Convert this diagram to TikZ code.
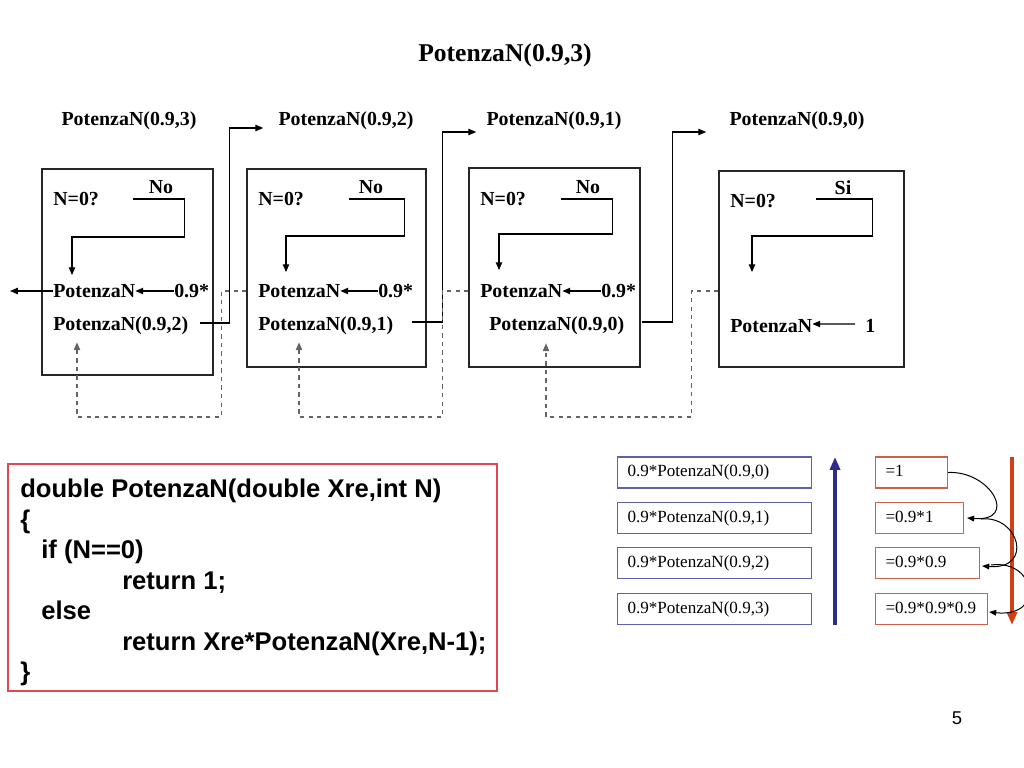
\documentclass[tikz,border=0pt]{standalone}
\usepackage{fontspec}
\setmainfont{Liberation Serif}
\setsansfont{Liberation Sans}
\usetikzlibrary{arrows.meta,fit}

\definecolor{stackblue}{RGB}{96,96,176}
\definecolor{arrowblue}{RGB}{44,44,140}
\definecolor{resultred}{RGB}{204,96,72}
\definecolor{arrowred}{RGB}{208,64,24}
\definecolor{codered}{RGB}{224,72,80}
\definecolor{retgray}{RGB}{100,100,100}

\begin{document}
\begin{tikzpicture}[
    x=0.703pt, y=-0.703pt,
    every node/.style={inner sep=0pt},
    title/.style={font=\bfseries\fontsize{18}{21}\selectfont},
    label/.style={font=\bfseries\fontsize{14}{16}\selectfont},
    frame/.style={draw=black!85, line width=0.8pt, inner sep=0pt},
    flow/.style={-{Triangle[length=5.5pt,width=4.5pt]}, line width=0.8pt},
    ret/.style={-{Triangle[length=5.5pt,width=4.5pt]}, dashed, draw=retgray, line width=0.8pt},
    stack/.style={draw=stackblue, line width=0.8pt, anchor=west, minimum height=21.8pt, inner xsep=7pt, text width=122.4pt, text height=8.4pt, text depth=2.6pt, align=left, font=\fontsize{12}{14}\selectfont},
    result/.style={stack, draw=resultred},
    code/.style={font=\sffamily\bfseries\fontsize{18}{21.4}\selectfont, align=left},
    codebox/.style={draw=codered, line width=0.8pt, inner sep=0pt},
    bigarrow/.style={line width=2.2pt, -{Triangle[length=9pt,width=7pt]}},
    curved/.style={-{Triangle[length=5pt,width=4pt]}, line width=0.7pt}
  ]
    \useasboundingbox (0,0) rectangle (1024,768);

    % Title and the chain of calls
    \node[title] (title) at (505,55) {PotenzaN(0.9,3)};
    \node[label] (call3) at (129,121) {PotenzaN(0.9,3)};
    \node[label] (call2) at (346,121) {PotenzaN(0.9,2)};
    \node[label] (call1) at (554,121) {PotenzaN(0.9,1)};
    \node[label] (call0) at (797,121) {PotenzaN(0.9,0)};

    % One frame per activation
    \node[frame, fit={(42,169) (213,375)}] (frame3) {};
    \node[frame, fit={(247,169) (426,367)}] (frame2) {};
    \node[frame, fit={(469,168) (640,367)}] (frame1) {};
    \node[frame, fit={(719,171) (904,367)}] (frame0) {};

    \node[label, anchor=west] (test3) at (53,199) {N=0?};
    \node[label] (no3) at (161,187) {No};
    \node[label, anchor=west] (rec3) at (53,291) {PotenzaN};
    \node[label, anchor=west] (k3) at (174,291) {0.9*};
    \node[label, anchor=west] (sub3) at (53,326) {PotenzaN(0.9,2)};

    \node[label, anchor=west] (test2) at (258,199) {N=0?};
    \node[label] (no2) at (371,187) {No};
    \node[label, anchor=west] (rec2) at (258,291) {PotenzaN};
    \node[label, anchor=west] (k2) at (378,291) {0.9*};
    \node[label, anchor=west] (sub2) at (258,326) {PotenzaN(0.9,1)};

    \node[label, anchor=west] (test1) at (480,199) {N=0?};
    \node[label] (no1) at (588,187) {No};
    \node[label, anchor=west] (rec1) at (480,291) {PotenzaN};
    \node[label, anchor=west] (k1) at (601,291) {0.9*};
    \node[label, anchor=west] (sub1) at (489,326) {PotenzaN(0.9,0)};

    \node[label, anchor=west] (test0) at (730,201) {N=0?};
    \node[label] (si0) at (843,188) {Si};
    \node[label, anchor=west] (rec0) at (730,326) {PotenzaN};
    \node[label, anchor=west] (one0) at (865,326) {1};

    \coordinate (result) at (10,291);

    % Decision branches
    \draw[flow] ([shift={(34,0)}]test3.east) -| ++(51,38) -| ([shift={(19,-9)}]rec3.north west);
    \draw[flow] ([shift={(45,0)}]test2.east) -| ++(55,37) -| ([shift={(28,-12)}]rec2.north west);
    \draw[flow] ([shift={(35,0)}]test1.east) -| ++(51,35) -| ([shift={(19,-14)}]rec1.north west);
    \draw[flow] ([shift={(40,-2)}]test0.east) -| ++(56,37) -| ([shift={(22,-47)}]rec0.north west);

    \draw[flow] (k3.west) -- (rec3.east);
    \draw[flow] (k2.west) -- (rec2.east);
    \draw[flow] (k1.west) -- (rec1.east);
    \draw[flow] (one0.west) ++(-10,-2) -- ([yshift=1.4pt]rec0.east);
    \draw[flow] (rec3.west) -- (result);

    % Recursive calls
    \draw[flow] ([shift={(11,-3)}]sub3.east) -- ++(30,0) |- ([shift={(-15,7)}]call2.west);
    \draw[flow] ([shift={(18,-4)}]sub2.east) -- ++(31,0) |- ([shift={(-10,11)}]call1.west);
    \draw[flow] ([shift={(17,-4)}]sub1.east) -- ++(31,0) |- ([shift={(-23,11)}]call0.west);

    % Returned values
    \draw[ret] (frame2.west |- rec2.west) -- ++(-25,0) -- ++(0,126) -| ([shift={(24,7)}]sub3.south west);
    \draw[ret] (frame1.west |- rec1.west) -- ++(-26,0) -- ++(0,126) -| ([shift={(41,7)}]sub2.south west);
    \draw[ret] (frame0.west |- rec1.west) -- ++(-27,0) -- ++(0,126) -| ([shift={(57,8)}]sub1.south west);

    % Source code
    \node[codebox, fit={(8,464) (497,691)}] (codeFrame) {};
    \node[code, anchor=north west] (code) at (20,479) {double PotenzaN(double Xre,int N)\\
      \{\\
      \hspace*{14.8pt}if (N==0)\\
      \hspace*{71.7pt}return 1;\\
      \hspace*{14.8pt}else\\
      \hspace*{71.7pt}return Xre*PotenzaN(Xre,N-1);\\
      \}};

    % Stack of pending calls and returned values
    \node[stack] (s0) at (617,472.5) {0.9*PotenzaN(0.9,0)};
    \node[stack] (s1) at (617,518) {0.9*PotenzaN(0.9,1)};
    \node[stack] (s2) at (617,563) {0.9*PotenzaN(0.9,2)};
    \node[stack] (s3) at (617,609) {0.9*PotenzaN(0.9,3)};

    \coordinate (pushBot) at (835,625);
    \coordinate (pushTop) at (835,457);
    \draw[bigarrow, arrowblue] (pushBot) -- (pushTop);

    \node[result, text width=36.6pt] (r0) at (875,472.5) {=1};
    \node[result, text width=47.9pt] (r1) at (875,518) {=0.9*1};
    \node[result, text width=59.1pt] (r2) at (875,563) {=0.9*0.9};
    \node[result, text width=64.7pt] (r3) at (875,609) {=0.9*0.9*0.9};

    \coordinate (popTop) at (1012,457);
    \coordinate (popBot) at (1012,625);
    \draw[bigarrow, arrowred] (popTop) -- (popBot);

    \draw[curved] (r0.east) .. controls +(43,-2) and +(52,4) .. ([xshift=2pt]r1.east);
    \draw[curved] ([shift={(17,1)}]r1.east) .. controls +(38,-4) and +(52,4) .. ([shift={(2,3)}]r2.east);
    \draw[curved] ([shift={(11,2)}]r2.east) .. controls +(45,-6) and +(57,6) .. ([shift={(1,3)}]r3.east);

    \node[font=\sffamily\fontsize{13}{15}\selectfont] (page) at (957,718) {5};
  \end{tikzpicture}
\end{document}
